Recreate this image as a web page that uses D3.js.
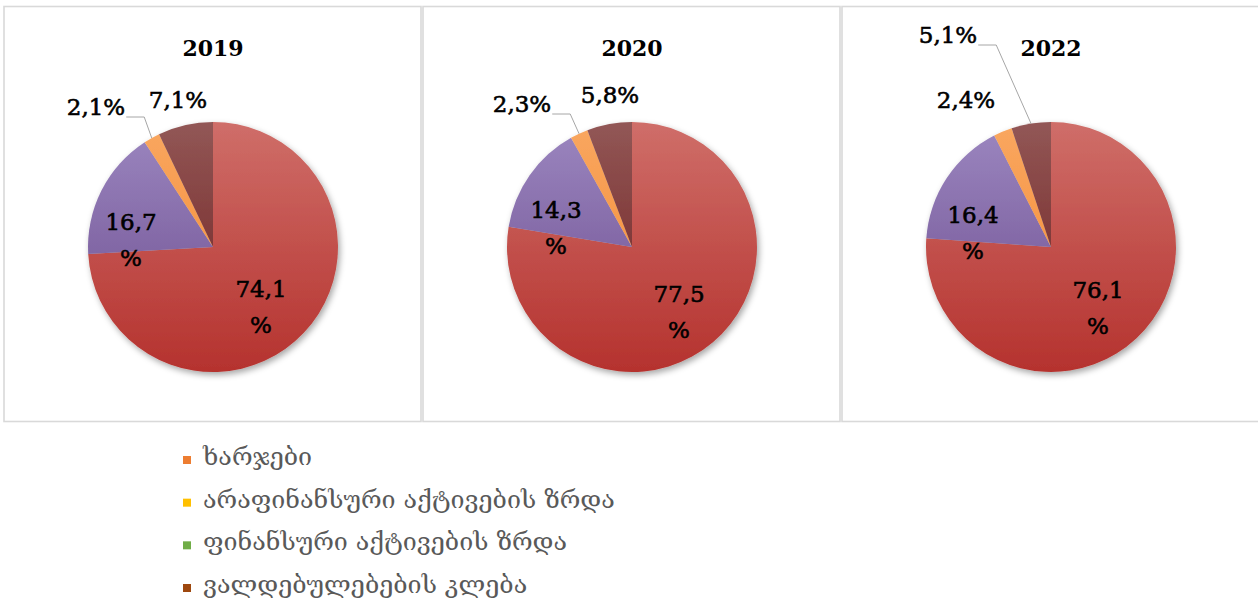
<!DOCTYPE html>
<html>
<head>
<meta charset="utf-8">
<script src="https://cdn.jsdelivr.net/npm/d3@7/dist/d3.min.js"></script>
<style>
  html, body { margin: 0; padding: 0; background: #ffffff; }
  svg { display: block; }
</style>
</head>
<body>
<svg id="chart" width="1258" height="603"></svg>
<script>
// Budget structure by year (shares, %)
const years = ["2019", "2020", "2022"];
const categories = [
  "ხარჯები",
  "არაფინანსური აქტივების ზრდა",
  "ფინანსური აქტივების ზრდა",
  "ვალდებულებების კლება"
];
const values2019 = [74.1, 16.7, 2.1, 7.1];
const values2020 = [77.5, 14.3, 2.3, 5.8];
const values2022 = [76.1, 16.4, 2.4, 5.1];
const seriesByYear = [values2019, values2020, values2022];

// Slice fills (top / bottom of the vertical gradient)
const sliceGradients = [
  ["#cf6e69", "#b5322e"],
  ["#9c87c0", "#69498c"],
  ["#f9a760", "#f4872f"],
  ["#925756", "#6c1a1a"]
];
// Legend swatch colours
const legendColors = ["#ed7d31", "#ffc000", "#70ad47", "#9e480e"];

// Label anchors relative to each pie centre: [dx, dy, style]
// style "split" puts the % sign on a second line, "leader" draws a connector
const labelLayout = [
  [[48, 50, "split"], [-82, -17, "split"], [-117, -132, "leader"], [-35, -139, "plain"]],
  [[47, 55, "split"], [-76, -29, "split"], [-110, -135, "leader"], [-22, -144, "plain"]],
  [[47, 51, "split"], [-78, -24, "split"], [-85, -139, "plain"], [-103, -204, "leader"]]
];

const fmt = d3.formatLocale({ decimal: ",", thousands: " ", grouping: [3], currency: ["", ""] }).format(".1f");

const svg = d3.select("#chart");

const panelW = 417, panelTop = 6.5, panelBottom = 421.5;
const centerX = d3.scalePoint().domain(years).range([213, 1051]);
const cy = 247;
const R = 125;

const defs = svg.append("defs");
const shadow = defs.append("filter").attr("id", "pieShadow")
  .attr("x", "-20%").attr("y", "-20%").attr("width", "140%").attr("height", "140%");
shadow.append("feDropShadow")
  .attr("dx", 2).attr("dy", 3).attr("stdDeviation", 3)
  .attr("flood-color", "#000").attr("flood-opacity", 0.35);

// gradients span the whole disc so shading runs top-to-bottom across the pie
sliceGradients.forEach((g, i) => {
  const lg = defs.append("linearGradient").attr("id", "grad" + i)
    .attr("gradientUnits", "userSpaceOnUse")
    .attr("x1", 0).attr("y1", -R).attr("x2", 0).attr("y2", R);
  lg.append("stop").attr("offset", "0%").attr("stop-color", g[0]);
  lg.append("stop").attr("offset", "100%").attr("stop-color", g[1]);
});

const pie = d3.pie().sort(null).value(d => d);
const arc = d3.arc().innerRadius(0).outerRadius(R);
const edgeArc = d3.arc().innerRadius(R).outerRadius(R);

const labelFont = "'DejaVu Serif', serif";

years.forEach((year, yi) => {
  const cx = centerX(year);

  // panel frame
  svg.append("rect")
    .attr("x", cx - panelW / 2 - 0.5).attr("y", panelTop)
    .attr("width", panelW).attr("height", panelBottom - panelTop)
    .attr("fill", "none").attr("stroke", "#d9d9d9").attr("stroke-width", 1.6);

  // year title
  svg.append("text")
    .attr("x", cx).attr("y", 56)
    .attr("text-anchor", "middle")
    .attr("font-family", labelFont).attr("font-weight", "bold")
    .attr("font-size", 22).attr("fill", "#000")
    .text(year);

  const g = svg.append("g").attr("transform", `translate(${cx},${cy})`);
  const arcs = pie(seriesByYear[yi]);

  g.append("g").attr("filter", "url(#pieShadow)")
    .selectAll("path").data(arcs).join("path")
    .attr("d", arc)
    .attr("fill", (d, i) => `url(#grad${i})`)
    .attr("stroke", "none");

  arcs.forEach((d, i) => {
    const [dx, dy, style] = labelLayout[yi][i];
    const txt = fmt(d.data);
    const t = g.append("text")
      .attr("text-anchor", "middle")
      .attr("font-family", labelFont)
      .attr("font-size", 23).attr("fill", "#000")
      .attr("stroke", "#000").attr("stroke-width", 0.6);
    if (style === "split") {
      t.append("tspan").attr("x", dx).attr("y", dy).text(txt);
      t.append("tspan").attr("x", dx).attr("y", dy + 36).text("%");
    } else {
      t.attr("x", dx).attr("y", dy).text(txt + "%");
    }
    if (style === "leader") {
      const w = t.node().getComputedTextLength();
      const [ex, ey] = edgeArc.centroid(d);
      const sx = dx + w / 2 + 1, sy = dy + 2;
      const bend = Math.min(sx + 18, ex - 4);
      g.insert("path", "text")
        .attr("d", `M${sx},${sy}H${bend}L${ex},${ey}`)
        .attr("fill", "none").attr("stroke", "#a6a6a6").attr("stroke-width", 1);
    }
  });
});

// legend
const legendY = d3.scalePoint().domain(categories).range([460, 588]);
const legendFont = "'DejaVu Serif', 'DejaVu Sans', serif";
const legend = svg.append("g");
const entries = categories.map((c, i) => {
  const y = legendY(c);
  legend.append("rect")
    .attr("x", 183).attr("y", y - 4).attr("width", 8).attr("height", 8)
    .attr("fill", legendColors[i]);
  return legend.append("text")
    .attr("x", 203).attr("y", y + 5)
    .attr("font-family", legendFont).attr("font-size", 16)
    .attr("fill", "#595959")
    .text(c);
});
// one font size for all entries, set so the longest entry spans 412px
const longest = d3.max(entries, t => t.node().getComputedTextLength());
const legendSize = 16 * 412 / longest;
entries.forEach(t => t.attr("font-size", legendSize));
</script>
</body>
</html>
